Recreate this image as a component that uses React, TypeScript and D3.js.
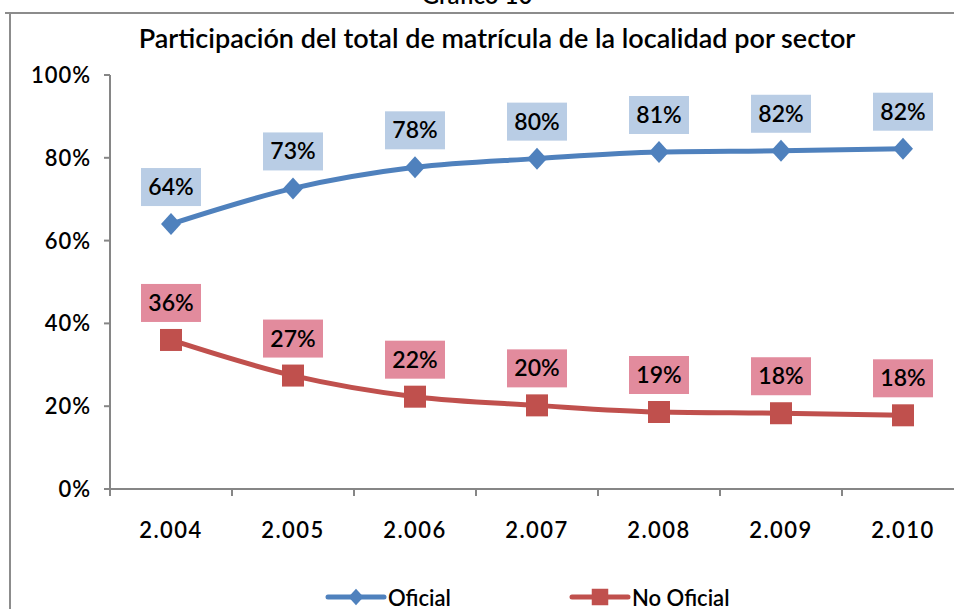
import * as d3 from "d3";
import { useEffect, useRef } from "react";

const years = ["2.004", "2.005", "2.006", "2.007", "2.008", "2.009", "2.010"];
const oficial = [64.0, 72.6, 77.7, 79.8, 81.4, 81.7, 82.2];
const noOficial = [36.0, 27.4, 22.3, 20.2, 18.6, 18.3, 17.8];
const yTicks = [0, 20, 40, 60, 80, 100];

const FONT = "Lato, 'Open Sans', sans-serif";

export default function App() {
  const svgRef = useRef<SVGSVGElement | null>(null);

  useEffect(() => {
    const svg = d3.select(svgRef.current);
    const width = 954;
    const height = 609;
    const margin = { top: 75, right: -10, bottom: 120, left: 110 };

    svg.selectAll("*").remove();
    svg.attr("width", width).attr("height", height);

    // outer frame (clipped by the window on the right/bottom)
    svg
      .append("path")
      .attr("d", "M5,13H960M10,13V620")
      .attr("fill", "none")
      .attr("stroke", "#8c8c8c")
      .attr("stroke-width", 2);

    svg
      .append("text")
      .attr("x", 477)
      .attr("y", 4)
      .attr("text-anchor", "middle")
      .attr("font-family", FONT)
      .attr("font-size", "24px")
      .attr("font-weight", 600)
      .text("Gráfico 10");

    svg
      .append("text")
      .attr("x", 497)
      .attr("y", 48)
      .attr("text-anchor", "middle")
      .attr("font-family", FONT)
      .attr("font-size", "27px")
      .attr("font-weight", 600)
      .text("Participación del total de matrícula de la localidad por sector");

    const x = d3
      .scaleBand()
      .domain(years)
      .range([margin.left, width - margin.right]);

    const y = d3
      .scaleLinear()
      .domain([0, 100])
      .range([height - margin.bottom, margin.top]);

    const cx = (i: number) => (x(years[i]) as number) + x.bandwidth() / 2;

    // y axis
    const yAxis = svg.append("g").attr("transform", `translate(${margin.left},0)`);
    yAxis
      .append("line")
      .attr("y1", y(0))
      .attr("y2", y(100))
      .attr("stroke", "#868686")
      .attr("stroke-width", 2);
    yAxis
      .selectAll(".ytick")
      .data(yTicks)
      .enter()
      .append("line")
      .attr("x1", -6)
      .attr("x2", 0)
      .attr("y1", (d) => y(d))
      .attr("y2", (d) => y(d))
      .attr("stroke", "#868686")
      .attr("stroke-width", 2);
    yAxis
      .selectAll(".ylabel")
      .data(yTicks)
      .enter()
      .append("text")
      .attr("x", -19)
      .attr("y", (d) => y(d) + 8)
      .attr("text-anchor", "end")
      .attr("font-family", FONT)
      .attr("font-size", "22px")
      .attr("font-weight", 600)
      .attr("letter-spacing", "1px")
      .text((d) => d + "%");

    // x axis
    const xAxis = svg.append("g").attr("transform", `translate(0,${y(0)})`);
    xAxis
      .append("line")
      .attr("x1", margin.left)
      .attr("x2", width + 20)
      .attr("stroke", "#868686")
      .attr("stroke-width", 2);
    xAxis
      .selectAll(".xtick")
      .data(years.concat(["end"]))
      .enter()
      .append("line")
      .attr("x1", (_, i) => margin.left + i * x.bandwidth())
      .attr("x2", (_, i) => margin.left + i * x.bandwidth())
      .attr("y1", 0)
      .attr("y2", 7)
      .attr("stroke", "#868686")
      .attr("stroke-width", 2);
    xAxis
      .selectAll(".xlabel")
      .data(years)
      .enter()
      .append("text")
      .attr("x", (_, i) => cx(i))
      .attr("y", 49)
      .attr("text-anchor", "middle")
      .attr("font-family", FONT)
      .attr("font-size", "22px")
      .attr("font-weight", 600)
      .attr("letter-spacing", "1.5px")
      .text((d) => d);

    const series = [
      { values: oficial, color: "#4f81bd", box: "#b9cde5", shape: "diamond" },
      { values: noOficial, color: "#c0504d", box: "#e28b9d", shape: "square" },
    ];

    const line = d3
      .line<number>()
      .x((_, i) => cx(i))
      .y((d) => y(d))
      .curve(d3.curveMonotoneX);

    const marker = (g: any, shape: string, color: string) => {
      if (shape === "diamond") {
        g.append("path")
          .attr("d", "M0,-11L10,0L0,11L-10,0Z")
          .attr("fill", color);
      } else {
        g.append("rect")
          .attr("x", -11)
          .attr("y", -11)
          .attr("width", 22)
          .attr("height", 22)
          .attr("fill", color);
      }
    };

    series.forEach((s) => {
      svg
        .append("path")
        .datum(s.values)
        .attr("fill", "none")
        .attr("stroke", s.color)
        .attr("stroke-width", 5)
        .attr("d", line);

      s.values.forEach((v, i) => {
        const g = svg.append("g").attr("transform", `translate(${cx(i)},${y(v)})`);
        marker(g, s.shape, s.color);

        const lbl = svg.append("g").attr("transform", `translate(${cx(i)},${y(v) - 18})`);
        lbl
          .append("rect")
          .attr("x", -30)
          .attr("y", -38)
          .attr("width", 60)
          .attr("height", 38)
          .attr("fill", s.box);
        lbl
          .append("text")
          .attr("x", 0)
          .attr("y", -11)
          .attr("text-anchor", "middle")
          .attr("font-family", FONT)
          .attr("font-size", "23px")
          .attr("font-weight", 600)
          .text(Math.round(v) + "%");
      });
    });

    // legend
    const legend = [
      { label: "Oficial", color: "#4f81bd", shape: "diamond", x: 328 },
      { label: "No Oficial", color: "#c0504d", shape: "square", x: 572 },
    ];
    legend.forEach((l) => {
      const g = svg.append("g").attr("transform", `translate(${l.x},597)`);
      g.append("line")
        .attr("x1", 0)
        .attr("x2", 56)
        .attr("stroke", l.color)
        .attr("stroke-width", 5)
        .attr("stroke-linecap", "round");
      const m = g.append("g").attr("transform", "translate(28,0) scale(0.75)");
      marker(m, l.shape, l.color);
      g.append("text")
        .attr("x", 60)
        .attr("y", 9)
        .attr("font-family", FONT)
        .attr("font-size", "22px")
        .attr("font-weight", 600)
        .text(l.label);
    });
  }, []);

  return (
    <svg
      ref={svgRef}
      style={{ position: "absolute", left: 0, top: 0, background: "#fff" }}
    ></svg>
  );
}
